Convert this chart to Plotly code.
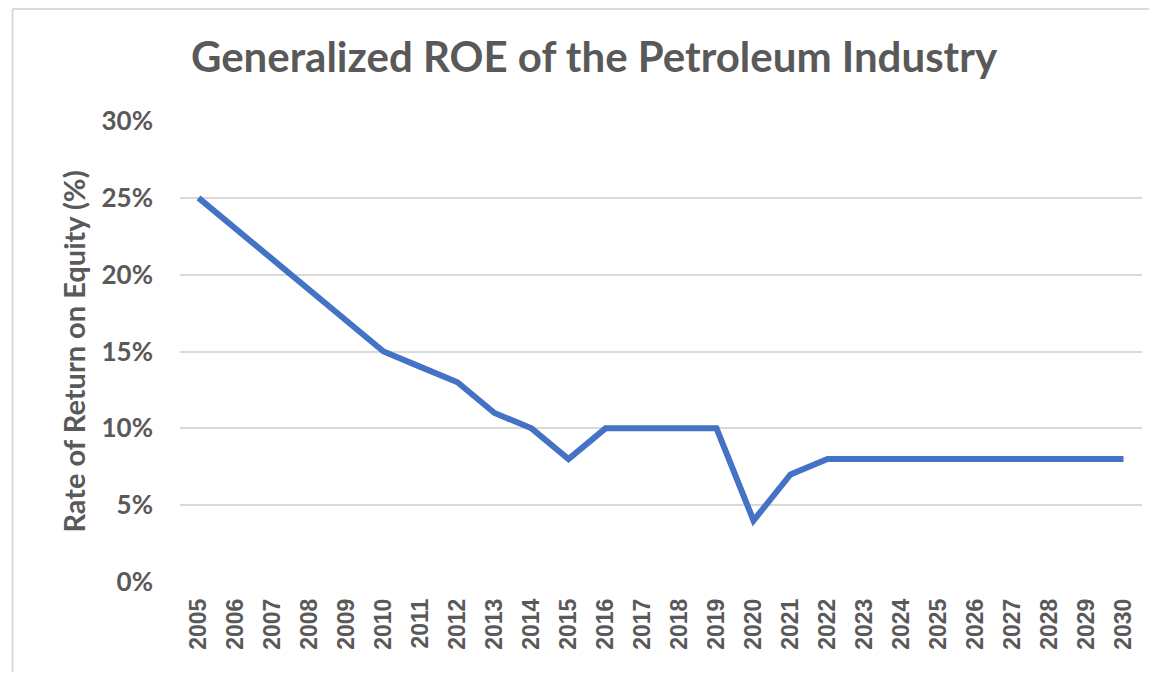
import plotly.graph_objects as go

years = [str(y) for y in range(2005, 2031)]
roe = [25, 23, 21, 19, 17, 15, 14, 13, 11, 10, 8, 10, 10, 10, 10, 4, 7, 8,
       8, 8, 8, 8, 8, 8, 8, 8]
y_ticks = [0, 5, 10, 15, 20, 25, 30]
y_tick_labels = ["0%", "5%", "10%", "15%", "20%", "25%", "30%"]

title_text = "Generalized ROE of the Petroleum Industry"
y_title = "Rate of Return on Equity (%)"

# page body has an 8px margin, so the figure is laid out 8px in from the window
OFF = 8
W, H = 1157 - OFF, 673 - OFF
L, R, T, B = 180 - OFF, 1157 - 1142, 121 - OFF, 673 - 582
PW, PH = W - L - R, H - T - B


def px_x(p):
    return (p - OFF - L) / PW


def px_y(p):
    return (H - B - (p - OFF)) / PH


fig = go.Figure()
fig.add_trace(go.Scatter(
    x=years, y=roe, mode="lines",
    line=dict(color="#4472C4", width=6),
    hoverinfo="x+y",
))

grey = "#595959"
border = dict(color="#D9D9D9", width=2)
fig.update_layout(
    width=W, height=H,
    margin=dict(l=L, r=R, t=T, b=B, autoexpand=False),
    paper_bgcolor="white", plot_bgcolor="white",
    showlegend=False,
    title=dict(text=title_text, x=(594 - OFF) / W, xanchor="center", xref="container",
               y=1 - (57 - OFF) / H, yanchor="middle", yref="container",
               font=dict(family="Lato", size=42, color=grey, weight="bold")),
    xaxis=dict(type="category", range=[-0.5, len(years) - 0.5], tickangle=-90,
               showgrid=False, zeroline=False, showline=False, ticks="",
               tickfont=dict(family="Liberation Sans", size=23, color=grey, weight="bold"),
               ticklabelstandoff=11),
    yaxis=dict(range=[0, 30], tickvals=y_ticks, ticktext=y_tick_labels,
               showgrid=True, gridcolor="#D9D9D9", gridwidth=2, zeroline=False,
               showline=False, ticks="",
               tickfont=dict(family="Lato", size=26, color=grey, weight="bold"),
               ticklabelstandoff=26,
               title=dict(text=y_title, standoff=7,
                          font=dict(family="Lato", size=29, color=grey, weight="bold"))),
    shapes=[
        dict(type="line", xref="paper", yref="paper",
             x0=px_x(12.5), x1=px_x(12.5), y0=px_y(672), y1=px_y(9), line=border),
        dict(type="line", xref="paper", yref="paper",
             x0=px_x(12.5), x1=px_x(1156), y0=px_y(9), y1=px_y(9), line=border),
    ],
)

fig.write_html("out.html")
